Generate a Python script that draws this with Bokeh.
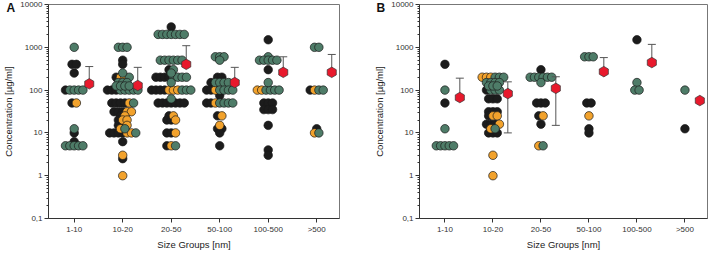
import numpy as np
from bokeh.plotting import figure
from bokeh.models import FixedTicker, Label, Range1d
from bokeh.layouts import row
from bokeh.embed import file_html
from bokeh.resources import INLINE

size_groups = ["1-10", "10-20", "20-50", "50-100", "100-500", ">500"]
y_ticks = [0.1, 1, 10, 100, 1000, 10000]
y_tick_labels = ["0,1", "1", "10", "100", "1000", "10000"]

# ---- Panel A: concentrations per size group, by colour class ----
A_black = [
    [400, 400, 250, 100, 50, 10, 6.25],
    [500, 400, 200, 100, 100, 100, 50, 50, 50, 50, 31.25, 31.25, 31.25, 25, 20, 15, 15, 10, 10, 10, 10, 6.25, 2.5],
    [3000, 300, 200, 200, 200, 200, 100, 100, 100, 100, 50, 50, 50, 50, 50, 50, 50, 25, 20, 20, 10, 10, 5],
    [200, 200, 150, 100, 100, 75, 50, 50, 25, 12.5, 12.5, 10, 5],
    [1500, 300, 50, 50, 50, 35, 35, 35, 15, 4, 3],
    [100, 12.5],
]
A_orange = [
    [50],
    [200, 200, 50, 31.25, 31.25, 25, 20, 20, 15, 12.5, 10, 10, 3, 1],
    [100, 100, 100, 25, 20, 10, 5],
    [100, 50, 25, 15],
    [100, 100],
    [100, 10],
]
A_green = [
    [1000, 100, 100, 100, 100, 12.5, 5, 5, 5, 5, 5],
    [1000, 1000, 1000, 250, 200, 150, 150, 150, 125, 125, 125, 125, 100, 100, 100, 100, 100, 50, 12.5, 10],
    [2000, 2000, 2000, 2000, 2000, 2000, 2000, 500, 500, 500, 500, 500, 500, 300, 250, 200, 200, 200, 200, 150, 100, 100, 100, 62.5, 5],
    [600, 600, 600, 500, 150, 150, 150, 150, 100, 100, 100, 100, 50, 50, 50, 50],
    [600, 500, 500, 500, 500, 500, 150, 100, 100, 100, 100],
    [1000, 1000, 100, 100, 10],
]
A_mean = [140, 128, 400, 150, 260, 260]
A_sd = [215, 212, 690, 190, 340, 420]

# ---- Panel B ----
B_black = [
    [400, 50],
    [100, 62.5, 62.5, 62.5, 31.25, 31.25, 31.25, 25, 16, 16, 16, 10, 10, 10],
    [300, 50, 50, 50, 25, 16],
    [50, 50, 12.5, 10],
    [1500],
    [12.5],
]
B_orange = [
    [],
    [200, 200, 200, 25, 25, 16, 12.5, 3, 1],
    [25, 5],
    [25],
    [],
    [],
]
B_green = [
    [100, 12.5, 5, 5, 5, 5, 5],
    [200, 200, 200, 150, 150, 150, 150, 125, 125, 125, 100, 100, 100, 12.5],
    [200, 200, 200, 200, 200, 200, 150, 5],
    [600, 600, 600],
    [150, 100, 100],
    [100],
]
B_mean = [67, 83, 110, 270, 440, 57]
B_sd = [123, 73, 95, 305, 730, 0]

COLORS = ["#1c1c1c", "#f2a22c", "#4e7c68"]
FONT = "Liberation Sans"
X_LO, X_HI = -0.53, 5.47
STEP_PX = 4.4
MEAN_OFFSET = 0.31
HEIGHT = 253
TOP, BOTTOM = 4, 35


def swarm(black, orange, green, px_per_unit):
    """Centre rows of equal values on the group position; black, orange, green left to right."""
    step = STEP_PX / px_per_unit
    out = {0: ([], []), 1: ([], []), 2: ([], [])}
    for gi in range(len(size_groups)):
        pts = [(v, 0) for v in black[gi]] + [(v, 1) for v in orange[gi]] + [(v, 2) for v in green[gi]]
        rows = {}
        for v, c in pts:
            rows.setdefault(v, []).append(c)
        for v, cs in rows.items():
            cs.sort()
            n = len(cs)
            for k, c in enumerate(cs):
                out[c][0].append(gi + (k - (n - 1) / 2) * step)
                out[c][1].append(v)
    return out


def make_panel(black, orange, green, mean, sd, width, left, right):
    frame_w = width - left - right
    p = figure(width=width, height=HEIGHT, y_axis_type="log",
               x_range=Range1d(X_LO, X_HI), y_range=Range1d(0.1, 10000),
               output_backend="svg", toolbar_location=None,
               min_border_left=left, min_border_right=right,
               min_border_top=TOP, min_border_bottom=BOTTOM)
    p.grid.visible = False
    p.outline_line_color = "#777777"
    p.background_fill_color = "white"
    p.border_fill_color = "white"

    p.xaxis.ticker = FixedTicker(ticks=list(range(len(size_groups))))
    p.xaxis.major_label_overrides = {i: g for i, g in enumerate(size_groups)}
    minor = [k * 10.0 ** d for d in range(-1, 4) for k in range(2, 10)]
    p.yaxis.ticker = FixedTicker(ticks=y_ticks, minor_ticks=minor)
    p.yaxis.major_label_overrides = dict(zip(y_ticks, y_tick_labels))
    for ax in p.axis:
        ax.axis_line_color = "#333333"
        ax.major_tick_line_color = "#333333"
        ax.major_tick_in = 0
        ax.major_tick_out = 4
        ax.minor_tick_in = 0
        ax.minor_tick_out = 2
        ax.major_label_text_font = FONT
        ax.major_label_text_font_size = "8px"
        ax.major_label_text_color = "#333333"
        ax.major_label_standoff = 2
        ax.axis_label_text_font = FONT
        ax.axis_label_text_font_size = "9.5px"
        ax.axis_label_text_font_style = "normal"
        ax.axis_label_text_color = "#222222"
    p.xaxis.minor_tick_line_color = None
    p.yaxis.minor_tick_line_color = "#333333"
    p.xaxis.axis_label = "Size Groups [nm]"
    p.xaxis.axis_label_standoff = 2
    p.yaxis.axis_label = "Concentration [µg/ml]"
    p.yaxis.axis_label_standoff = 3

    pts = swarm(black, orange, green, frame_w / (X_HI - X_LO))
    for c in (0, 1, 2):
        xs, ys = pts[c]
        p.scatter(xs, ys, size=8.5, fill_color=COLORS[c], line_color="#1a1a1a", line_width=0.7)

    xm = [i + MEAN_OFFSET for i in range(len(mean))]
    hi = [m + s for m, s in zip(mean, sd)]
    lo = [m - s if m - s > 0 else m for m, s in zip(mean, sd)]
    seg_x = [x for x, s in zip(xm, sd) if s > 0]
    seg_lo = [l for l, s in zip(lo, sd) if s > 0]
    seg_hi = [h for h, s in zip(hi, sd) if s > 0]
    p.segment(seg_x, seg_lo, seg_x, seg_hi, line_color="#555555", line_width=1)
    p.scatter(seg_x, seg_hi, marker="dash", size=8, line_color="#555555", line_width=1)
    low_x = [x for x, m, s in zip(xm, mean, sd) if s > 0 and m - s > 0]
    low_y = [m - s for m, s in zip(mean, sd) if s > 0 and m - s > 0]
    p.scatter(low_x, low_y, marker="dash", size=8, line_color="#555555", line_width=1)
    p.scatter(xm, mean, marker="hex", size=10.5, angle=np.pi / 6, fill_color="#e8192c",
              line_color="#333333", line_width=0.7)
    return p, frame_w


pA, fwA = make_panel(A_black, A_orange, A_green, A_mean, A_sd, 362, 45, 23)
pB, fwB = make_panel(B_black, B_orange, B_green, B_mean, B_sd, 346, 51, 1)


def letter(text, dx):
    # placed in a side panel so that it is not clipped to the frame
    return Label(x=X_LO, y=10000, x_units="data", y_units="data", x_offset=dx, y_offset=-3,
                 text=text, text_font=FONT, text_font_style="bold", text_font_size="12px",
                 text_color="#111111", text_baseline="middle", text_align="left")


pA.add_layout(letter("A", -42), "right")
pB.add_layout(letter("B", -43), "left")

layout = row(pA, pB)
open("out.html", "w").write(file_html(layout, INLINE))
